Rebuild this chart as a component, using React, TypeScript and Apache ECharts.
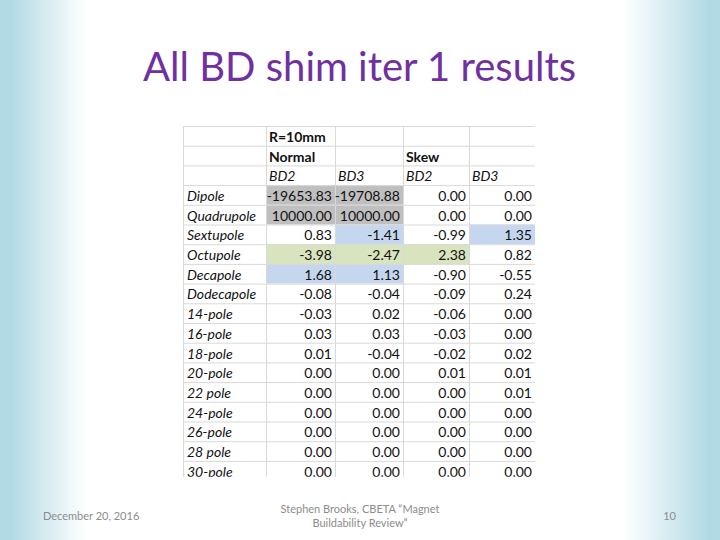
import React, { useEffect, useRef } from "react";
import * as echarts from "echarts";

const title = "All BD shim iter 1 results";
const harmonics = [
  "Dipole", "Quadrupole", "Sextupole", "Octupole", "Decapole", "Dodecapole",
  "14-pole", "16-pole", "18-pole", "20-pole", "22 pole", "24-pole", "26-pole", "28 pole", "30-pole",
];
const normalBD2 = [-19653.83, 10000.0, 0.83, -3.98, 1.68, -0.08, -0.03, 0.03, 0.01, 0.0, 0.0, 0.0, 0.0, 0.0, 0.0];
const normalBD3 = [-19708.88, 10000.0, -1.41, -2.47, 1.13, -0.04, 0.02, 0.03, -0.04, 0.0, 0.0, 0.0, 0.0, 0.0, 0.0];
const skewBD2 = [0.0, 0.0, -0.99, 2.38, -0.9, -0.09, -0.06, -0.03, -0.02, 0.01, 0.0, 0.0, 0.0, 0.0, 0.0];
const skewBD3 = [0.0, 0.0, 1.35, 0.82, -0.55, 0.24, 0.0, 0.0, 0.02, 0.01, 0.01, 0.0, 0.0, 0.0, 0.0];
const headerRows = [
  ["", "R=10mm", "", "", ""],
  ["", "Normal", "", "Skew", ""],
  ["", "BD2", "BD3", "BD2", "BD3"],
];
// highlighted cells: [harmonic index, column index, colour key]
const highlights: [number, number, string][] = [
  [0, 1, "gray"], [0, 2, "gray"], [1, 1, "gray"], [1, 2, "gray"],
  [2, 2, "blue"], [2, 4, "blue"],
  [3, 1, "green"], [3, 2, "green"], [3, 3, "green"],
  [4, 1, "blue"], [4, 2, "blue"],
];
const footerDate = "December 20, 2016";
const footerLine1 = "Stephen Brooks, CBETA “Magnet";
const footerLine2 = "Buildability Review”";
const pageNo = "10";

const FILLS: Record<string, string> = { gray: "#bfbfbf", blue: "#c5d7ee", green: "#d8e4bd" };
const COL_EDGES = [0, 83, 152, 220, 286, 352];
const FONT = "Lato, 'Open Sans', sans-serif";

type Cell = { row: number; col: number; text: string; kind: string; fill: string | null };

function buildCells(): Cell[] {
  const cells: Cell[] = [];
  headerRows.forEach((r, ri) =>
    r.forEach((t, ci) => {
      cells.push({ row: ri, col: ci, text: t, kind: ri === 2 ? "headItalic" : "headBold", fill: null });
    })
  );
  const cols = [normalBD2, normalBD3, skewBD2, skewBD3];
  harmonics.forEach((h, hi) => {
    const row = hi + 3;
    cells.push({ row, col: 0, text: h, kind: "label", fill: null });
    cols.forEach((arr, k) => {
      const hl = highlights.find((x) => x[0] === hi && x[1] === k + 1);
      cells.push({ row, col: k + 1, text: arr[hi].toFixed(2), kind: "value", fill: hl ? FILLS[hl[2]] : null });
    });
  });
  return cells;
}

export default function App() {
  const ref = useRef<HTMLDivElement>(null);
  useEffect(() => {
    if (!ref.current) return;
    const chart = echarts.init(ref.current, null, { renderer: "svg" });
    const cells = buildCells();
    const rowH = 19.7;
    const visibleRows = 17.8;
    chart.setOption({
      animation: false,
      backgroundColor: {
        type: "linear", x: 0, y: 0, x2: 1, y2: 0,
        colorStops: [
          { offset: 0, color: "#b0d9e4" },
          { offset: 0.015, color: "#b2dae4" },
          { offset: 0.12, color: "#ffffff" },
          { offset: 0.865, color: "#ffffff" },
          { offset: 0.985, color: "#b2dae4" },
          { offset: 1, color: "#b0d9e4" },
        ],
      },
      grid: { left: 183, top: 126, width: 352, height: visibleRows * rowH, show: false },
      xAxis: { type: "value", min: 0, max: COL_EDGES[COL_EDGES.length - 1], show: false },
      yAxis: { type: "value", min: 0, max: visibleRows, inverse: true, show: false },
      series: [
        {
          type: "custom",
          clip: true,
          data: cells.map((c) => [COL_EDGES[c.col], c.row]),
          renderItem: (params: any, api: any) => {
            const c = cells[params.dataIndex];
            const [x0, y0] = api.coord([COL_EDGES[c.col], c.row]);
            const [x1, y1] = api.coord([COL_EDGES[c.col + 1], c.row + 1]);
            const children: any[] = [];
            if (c.fill) {
              children.push({ type: "rect", shape: { x: x0, y: y0, width: x1 - x0, height: y1 - y0 }, style: { fill: c.fill } });
            }
            children.push({ type: "line", shape: { x1: x0, y1: y0 + 0.5, x2: x1, y2: y0 + 0.5 }, style: { stroke: "#d9d9d9", lineWidth: 1 } });
            children.push({ type: "line", shape: { x1: x0 + 0.5, y1: y0, x2: x0 + 0.5, y2: y1 }, style: { stroke: "#d9d9d9", lineWidth: 1 } });
            if (c.text) {
              const ym = (y0 + y1) / 2 + 0.5;
              const style: any = { text: c.text, fill: "#111", fontFamily: FONT, fontSize: 14, verticalAlign: "middle" };
              let x = x0 + 3;
              if (c.kind === "value") {
                style.align = "right";
                x = x1 - 3;
              } else if (c.kind === "label") {
                style.align = "left";
                style.fontStyle = "italic";
                x = x0 + 4;
              } else if (c.kind === "headItalic") {
                style.align = "left";
                style.fontStyle = "italic";
              } else {
                style.align = "left";
                style.fontWeight = "bold";
              }
              children.push({ type: "text", x, y: ym, style });
            }
            return { type: "group", children };
          },
        },
      ],
      graphic: [
        {
          type: "text", left: "center", top: 46,
          style: { text: title, fill: "#7030a0", fontFamily: FONT, fontSize: 40 },
        },
        {
          type: "text", x: 43, y: 515,
          style: { text: footerDate, fill: "#8c8c8c", fontFamily: FONT, fontSize: 11, verticalAlign: "middle" },
        },
        {
          type: "text", x: 360, y: 508,
          style: { text: footerLine1, fill: "#8c8c8c", fontFamily: FONT, fontSize: 11, align: "center", verticalAlign: "middle" },
        },
        {
          type: "text", x: 360, y: 522,
          style: { text: footerLine2, fill: "#8c8c8c", fontFamily: FONT, fontSize: 11, align: "center", verticalAlign: "middle" },
        },
        {
          type: "text", x: 676, y: 515,
          style: { text: pageNo, fill: "#8c8c8c", fontFamily: FONT, fontSize: 11, align: "right", verticalAlign: "middle" },
        },
      ],
    });
    return () => chart.dispose();
  }, []);
  return <div ref={ref} style={{ position: "fixed", left: 0, top: 0, width: 720, height: 540 }} />;
}
